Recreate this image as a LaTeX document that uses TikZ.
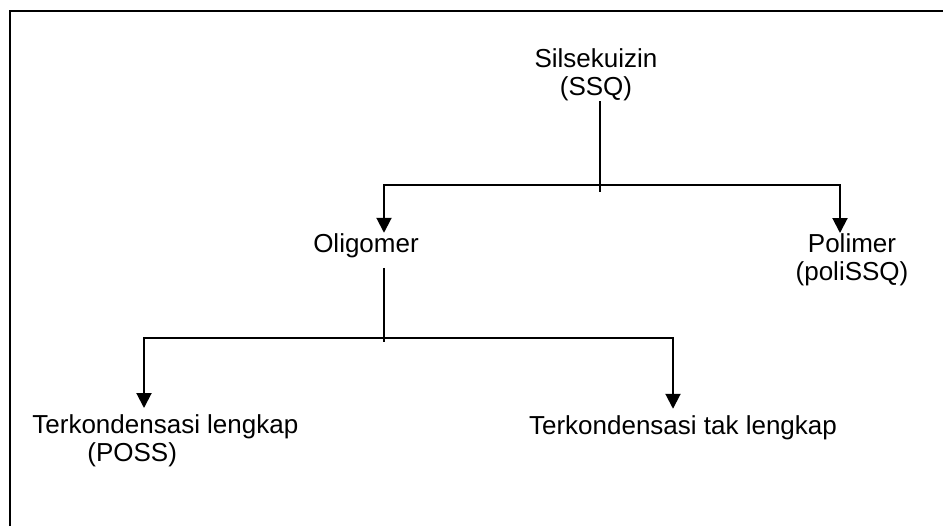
\documentclass[tikz,border=0pt]{standalone}
\usepackage{fontspec}
\setmainfont{Liberation Sans}
\usetikzlibrary{arrows.meta}
\tikzset{>={Triangle[width=7.5pt,length=7.5pt]}}
\tikzset{ txt/.style={font=\fontsize{13}{14}\selectfont, inner sep=0pt, align=center}, link/.style={line width=1pt} }

\begin{document}
\begin{tikzpicture}[x=0.5pt,y=-0.5pt]
  \useasboundingbox (0,0) rectangle (943,526);
  % frame
  \draw[line width=1.35pt] (10,526) -- (10,11) -- (943,11);
  % texts
  \node[txt,anchor=north] (ssq) at (596,48) {Silsekuizin\\(SSQ)};
  \node[txt,anchor=base] (oligo) at (366,252) {Oligomer};
  \node[txt,anchor=north] (poli) at (852,233) {Polimer\\(poliSSQ)};
  \node[txt,anchor=north west,align=left] (poss) at (32,414) {Terkondensasi lengkap\\\hspace*{27.5pt}(POSS)};
  \node[txt,anchor=base] (tak) at (683,434) {Terkondensasi tak lengkap};
  % bends
  \coordinate (j1) at (600,192);
  \coordinate (b1) at (384,185);
  \coordinate (b2) at (840,185);
  \coordinate (j2) at (384,342);
  \coordinate (b3) at (144,338);
  \coordinate (b4) at (673,338);
  % first level
  \draw[link] (ssq.south -| j1) -- (j1);
  \draw[link,<->] (oligo.north -| b1) -- (b1) -- (b2) -- (poli.north -| b2);
  % second level
  \draw[link,shorten <=5pt] (oligo.south -| j2) -- (j2);
  \draw[link,<->,shorten <=3pt,shorten >=3pt] (poss.north -| b3) -- (b3) -- (b4) -- (tak.north -| b4);
\end{tikzpicture}
\end{document}
